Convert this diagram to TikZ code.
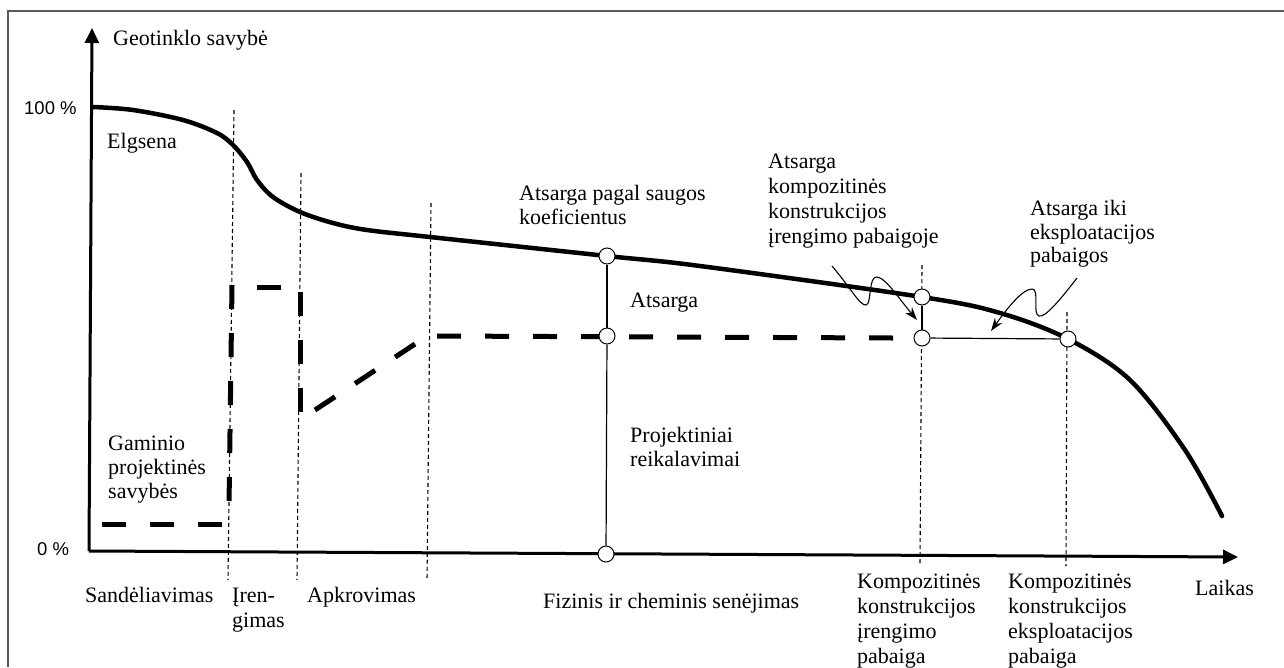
\documentclass[tikz,border=0pt]{standalone}
\usepackage{fontspec}
\setmainfont{Liberation Serif}
\newfontfamily\lsans{Liberation Sans}
\usetikzlibrary{arrows.meta}
\newcommand\mystrut{\rule{0pt}{17pt}}
\begin{document}
\begin{tikzpicture}[x=1pt,y=-1pt,
  lbl/.style={font=\fontsize{22}{25}\selectfont, inner sep=0pt, align=left},
  pct/.style={font=\lsans\fontsize{18.5}{22}\selectfont, inner sep=0pt},
  axis/.style={line width=3pt, -{Triangle[length=15pt,width=14pt]}},
  curvel/.style={line width=4.5pt, line cap=round, line join=round},
  sepl/.style={line width=1.1pt, dash pattern=on 4pt off 3pt},
  design/.style={line width=5pt, dash pattern=on 24pt off 24pt},
  thinl/.style={line width=1.2pt},
  dot/.style={circle, draw, fill=white, line width=1pt, minimum size=16pt, inner sep=0pt},
  ptr/.style={line width=1.1pt, -{Stealth[length=13pt,width=9pt]}},
  framel/.style={line width=2pt, draw=black!65}
]
\useasboundingbox (0,0) rectangle (1284,667);
% frame
\draw[framel] (8,667) -- (8,11) -- (1284,11);

% axes
\coordinate (O) at (89,551);
\coordinate (ytip) at (92,28);
\coordinate (xtip) at (1238,557);
\draw[axis] (O) -- (ytip);
\draw[axis] (O) -- (xtip);

% phase separators
\coordinate (s1t) at (234,110); \coordinate (s1b) at (228,580);
\coordinate (s2t) at (301,173); \coordinate (s2b) at (297,580);
\coordinate (s3t) at (431,203); \coordinate (s3b) at (427,580);
\coordinate (s4t) at (922,265); \coordinate (s4b) at (920,565);
\coordinate (s5t) at (1067,312); \coordinate (s5b) at (1066,566);
\draw[sepl] (s1t) -- (s1b);
\draw[sepl] (s2t) -- (s2b);
\draw[sepl] (s3t) -- (s3b);
\draw[sepl] (s4t) -- (s4b);
\draw[sepl] (s5t) -- (s5b);

% design requirement (thick dashed)
\draw[design] (102,524) -- (223,524);
\draw[design] (232,285) -- (229,506);
\draw[line width=5pt] (257,287) -- (281,287);
\draw[design] (300,292) -- (300,413);
\draw[design] (315,410) -- (415,344);
\draw[design] (437,336) -- (893,338);

% main curve
\draw[curvel] plot[smooth, tension=0.55] coordinates {
  (93,107) (133,110) (183,120) (217,133) (233,145) (247,162) (257,180)
  (273,197) (300,212) (333,223) (367,230) (430,237) (607,256) (700,266)
  (922,297) (1000,313) (1068,339) (1130,380) (1185,450) (1222,516)};

% margin lines and points
\node[dot] (a1) at (607,256) {};
\node[dot] (a2) at (607,336) {};
\node[dot] (a3) at (606,554) {};
\node[dot] (b1) at (922,297) {};
\node[dot] (b2) at (922,338) {};
\node[dot] (b3) at (1068,339) {};
\draw[thinl] (a1) -- (a2);
\draw[thinl] (a2) -- (a3);
\draw[thinl] (b1) -- (b2);
\draw[thinl] (b2) -- (b3);

% pointers
\coordinate (p1s) at (832,266);
\coordinate (p2s) at (1077,278);
\draw[ptr] (p1s) .. controls (850,287) and (860,306) .. (866,305)
  .. controls (872,304) and (868,276) .. (877,277)
  .. controls (886,278) and (900,300) .. (917,320);
\draw[ptr] (p2s) .. controls (1060,300) and (1045,318) .. (1039,316)
  .. controls (1032,314) and (1040,289) .. (1032,289)
  .. controls (1022,289) and (1006,310) .. (991,331);

% labels
\node[lbl, anchor=base west] (ylab) at (113,45) {Geotinklo savybė};
\node[pct, anchor=base west] (p100) at (24,114) {100 \%};
\node[pct, anchor=base west] (p0) at (37,555) {0 \%};
\node[lbl, anchor=base west] (elg) at (107,148) {Elgsena};
\node[lbl, anchor=north west] (gam) at (108,433) {\mystrut Gaminio\\[-1pt] projektinės\\[-1pt] savybės};
\node[lbl, anchor=base west] (sand) at (85,602) {Sandėliavimas};
\node[lbl, anchor=north west] (iren) at (232,585) {\mystrut Įren-\\ gimas};
\node[lbl, anchor=base west] (apk) at (307,602) {Apkrovimas};
\node[lbl, anchor=base west] (fiz) at (543,608) {Fizinis ir cheminis senėjimas};
\node[lbl, anchor=north west] (k1) at (857,571) {\mystrut Kompozitinės\\ konstrukcijos\\ įrengimo\\ pabaiga};
\node[lbl, anchor=north west] (k2) at (1008,571) {\mystrut Kompozitinės\\ konstrukcijos\\ eksploatacijos\\ pabaiga};
\node[lbl, anchor=base west] (laik) at (1195,595) {Laikas};
\node[lbl, anchor=north west] (saug) at (519,183) {\mystrut Atsarga pagal saugos\\[-1pt] koeficientus};
\node[lbl, anchor=base west] (ats) at (630,307) {Atsarga};
\node[lbl, anchor=north west] (proj) at (630,425) {\mystrut Projektiniai\\[-1pt] reikalavimai};
\node[lbl, anchor=north west] (akk) at (768,151) {\mystrut Atsarga\\ kompozitinės\\ konstrukcijos\\ įrengimo pabaigoje};
\node[lbl, anchor=north west] (aiki) at (1030,198) {\mystrut Atsarga iki\\[-1pt] eksploatacijos\\[-2pt] pabaigos};
\end{tikzpicture}
\end{document}
